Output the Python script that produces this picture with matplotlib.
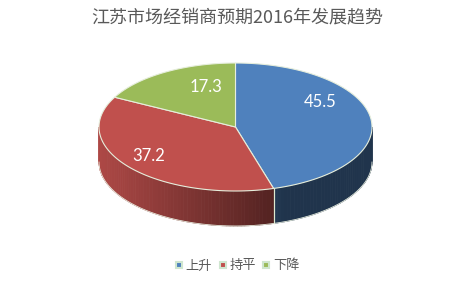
import numpy as np
import matplotlib.pyplot as plt
from matplotlib.patches import Polygon
from matplotlib.lines import Line2D
from matplotlib.colors import to_rgb

plt.rcParams['font.family'] = ['Noto Sans CJK SC', 'DejaVu Sans']

# data
title = '江苏市场经销商预期2016年发展趋势'
labels = ['上升', '持平', '下降']
values = [45.5, 37.2, 17.3]
colors = ['#4F81BD', '#C0504D', '#9BBB59']

# layout of the 3d pie (pixel units, y pointing down)
cx, cy = 235.5, 127
rx, ry = 136.5, 64
depth = 35
label_k = 0.65
label_nudge = [(-3, -19), (-18, 3), (16, -4)]

fig = plt.figure(figsize=(4.74, 2.83), dpi=100)
ax = fig.add_axes([0, 0, 1, 1])
ax.set_xlim(0, 474)
ax.set_ylim(283, 0)
ax.axis('off')

fracs = np.array(values) / sum(values)
bounds = np.concatenate([[0], np.cumsum(fracs)]) * 360  # clockwise from 12 o'clock


def pt(theta, k=1.0, dy=0.0):
    t = np.radians(theta)
    return cx + k * rx * np.sin(t), cy - k * ry * np.cos(t) + dy


def shade(x):
    # side darkens from left to right
    return np.clip(0.9 - 0.0027 * (x - 100), 0.4, 0.9)


# side walls (only the front half, 90..270 deg, is visible)
for i, c in enumerate(colors):
    a0, a1 = max(bounds[i], 90), min(bounds[i + 1], 270)
    if a1 <= a0:
        continue
    steps = np.linspace(a0, a1, max(int((a1 - a0) / 1.5), 2))
    base = np.array(to_rgb(c))
    for s0, s1 in zip(steps[:-1], steps[1:]):
        x0, y0 = pt(s0)
        x1, y1 = pt(s1)
        f = shade((x0 + x1) / 2)
        ax.add_patch(Polygon([(x0, y0), (x1, y1), (x1, y1 + depth), (x0, y0 + depth)],
                             closed=True, facecolor=base * f, edgecolor=base * f, lw=0.6))
    # light edge at the wedge boundary
    for a in (a0, a1):
        if 90 < a < 270:
            x, y = pt(a)
            ax.plot([x, x], [y, y + depth], color='#DDE8D0', lw=0.8)

# outline of the side bottom
arc = np.linspace(90, 270, 200)
bx, by = pt(arc, dy=depth)
ax.plot(bx, by, color='#E8EEE0', lw=0.6)

# top face
for i, c in enumerate(colors):
    arc = np.linspace(bounds[i], bounds[i + 1], 120)
    xs, ys = pt(arc)
    poly = [(cx, cy)] + list(zip(xs, ys))
    ax.add_patch(Polygon(poly, closed=True, facecolor=c, edgecolor='#E6EEDC', lw=0.8))

# value labels
for i, v in enumerate(values):
    mid = (bounds[i] + bounds[i + 1]) / 2
    x, y = pt(mid, k=label_k)
    ax.text(x + label_nudge[i][0], y + label_nudge[i][1], f'{v:.1f}', color='white',
            fontsize=12, ha='center', va='center', family=['Lato', 'DejaVu Sans'])

ax.text(237, 17, title, ha='center', va='center', fontsize=13, color='#595959')

handles = [Line2D([], [], marker='s', linestyle='none', markersize=4.5,
                  markerfacecolor=c, markeredgecolor='#CFE6CF', markeredgewidth=1.5)
           for c in colors]
fig.legend(handles, labels, loc='center', bbox_to_anchor=(0.5, 1 - 266 / 283), ncol=3,
           frameon=False, fontsize=9.5, labelcolor='#595959', handlelength=0.7,
           handletextpad=0.15, columnspacing=0.45)

fig.savefig('out.png', dpi=100)
